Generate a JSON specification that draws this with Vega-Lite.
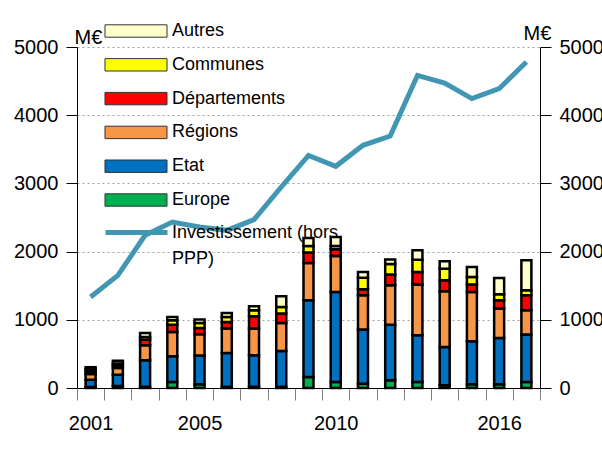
{
  "$schema": "https://vega.github.io/schema/vega-lite/v6.json",
  "width": 463,
  "height": 341,
  "autosize": {"type": "none"},
  "padding": {"left": 77, "top": 47, "right": 62, "bottom": 64},
  "background": "white",
  "config": {
    "font": "Liberation Sans",
    "view": {"stroke": null},
    "axis": {"labelFont": "Liberation Sans", "labelFontSize": 20, "labelColor": "black", "titleFont": "Liberation Sans", "titleFontWeight": "normal", "titleFontSize": 20, "titleColor": "black"},
    "legend": {"labelFont": "Liberation Sans", "labelFontSize": 18, "labelColor": "black"}
  },
  "datasets": {
    "bars": [
      {"year": 2001, "source": "Europe", "value": 15}, {"year": 2001, "source": "Etat", "value": 105}, {"year": 2001, "source": "Régions", "value": 85}, {"year": 2001, "source": "Départements", "value": 35}, {"year": 2001, "source": "Communes", "value": 35}, {"year": 2001, "source": "Autres", "value": 30},
      {"year": 2002, "source": "Europe", "value": 30}, {"year": 2002, "source": "Etat", "value": 165}, {"year": 2002, "source": "Régions", "value": 100}, {"year": 2002, "source": "Départements", "value": 35}, {"year": 2002, "source": "Communes", "value": 30}, {"year": 2002, "source": "Autres", "value": 40},
      {"year": 2003, "source": "Europe", "value": 20}, {"year": 2003, "source": "Etat", "value": 386}, {"year": 2003, "source": "Régions", "value": 220}, {"year": 2003, "source": "Départements", "value": 83}, {"year": 2003, "source": "Communes", "value": 39}, {"year": 2003, "source": "Autres", "value": 58},
      {"year": 2004, "source": "Europe", "value": 88}, {"year": 2004, "source": "Etat", "value": 377}, {"year": 2004, "source": "Régions", "value": 356}, {"year": 2004, "source": "Départements", "value": 108}, {"year": 2004, "source": "Communes", "value": 64}, {"year": 2004, "source": "Autres", "value": 48},
      {"year": 2005, "source": "Europe", "value": 54}, {"year": 2005, "source": "Etat", "value": 421}, {"year": 2005, "source": "Régions", "value": 312}, {"year": 2005, "source": "Départements", "value": 93}, {"year": 2005, "source": "Communes", "value": 73}, {"year": 2005, "source": "Autres", "value": 50},
      {"year": 2006, "source": "Europe", "value": 20}, {"year": 2006, "source": "Etat", "value": 493}, {"year": 2006, "source": "Régions", "value": 358}, {"year": 2006, "source": "Départements", "value": 97}, {"year": 2006, "source": "Communes", "value": 73}, {"year": 2006, "source": "Autres", "value": 59},
      {"year": 2007, "source": "Europe", "value": 20}, {"year": 2007, "source": "Etat", "value": 459}, {"year": 2007, "source": "Régions", "value": 392}, {"year": 2007, "source": "Départements", "value": 180}, {"year": 2007, "source": "Communes", "value": 88}, {"year": 2007, "source": "Autres", "value": 59},
      {"year": 2008, "source": "Europe", "value": 20}, {"year": 2008, "source": "Etat", "value": 522}, {"year": 2008, "source": "Régions", "value": 411}, {"year": 2008, "source": "Départements", "value": 138}, {"year": 2008, "source": "Communes", "value": 96}, {"year": 2008, "source": "Autres", "value": 157},
      {"year": 2009, "source": "Europe", "value": 161}, {"year": 2009, "source": "Etat", "value": 1125}, {"year": 2009, "source": "Régions", "value": 547}, {"year": 2009, "source": "Départements", "value": 152}, {"year": 2009, "source": "Communes", "value": 97}, {"year": 2009, "source": "Autres", "value": 117},
      {"year": 2010, "source": "Europe", "value": 88}, {"year": 2010, "source": "Etat", "value": 1320}, {"year": 2010, "source": "Régions", "value": 527}, {"year": 2010, "source": "Départements", "value": 98}, {"year": 2010, "source": "Communes", "value": 49}, {"year": 2010, "source": "Autres", "value": 132},
      {"year": 2011, "source": "Europe", "value": 64}, {"year": 2011, "source": "Etat", "value": 792}, {"year": 2011, "source": "Régions", "value": 503}, {"year": 2011, "source": "Départements", "value": 88}, {"year": 2011, "source": "Communes", "value": 171}, {"year": 2011, "source": "Autres", "value": 83},
      {"year": 2012, "source": "Europe", "value": 113}, {"year": 2012, "source": "Etat", "value": 816}, {"year": 2012, "source": "Régions", "value": 577}, {"year": 2012, "source": "Départements", "value": 157}, {"year": 2012, "source": "Communes", "value": 157}, {"year": 2012, "source": "Autres", "value": 63},
      {"year": 2013, "source": "Europe", "value": 88}, {"year": 2013, "source": "Etat", "value": 685}, {"year": 2013, "source": "Régions", "value": 743}, {"year": 2013, "source": "Départements", "value": 185}, {"year": 2013, "source": "Communes", "value": 181}, {"year": 2013, "source": "Autres", "value": 137},
      {"year": 2014, "source": "Europe", "value": 40}, {"year": 2014, "source": "Etat", "value": 561}, {"year": 2014, "source": "Régions", "value": 817}, {"year": 2014, "source": "Départements", "value": 161}, {"year": 2014, "source": "Communes", "value": 171}, {"year": 2014, "source": "Autres", "value": 108},
      {"year": 2015, "source": "Europe", "value": 54}, {"year": 2015, "source": "Etat", "value": 631}, {"year": 2015, "source": "Régions", "value": 723}, {"year": 2015, "source": "Départements", "value": 108}, {"year": 2015, "source": "Communes", "value": 111}, {"year": 2015, "source": "Autres", "value": 147},
      {"year": 2016, "source": "Europe", "value": 54}, {"year": 2016, "source": "Etat", "value": 679}, {"year": 2016, "source": "Régions", "value": 431}, {"year": 2016, "source": "Départements", "value": 122}, {"year": 2016, "source": "Communes", "value": 88}, {"year": 2016, "source": "Autres", "value": 239},
      {"year": 2017, "source": "Europe", "value": 88}, {"year": 2017, "source": "Etat", "value": 695}, {"year": 2017, "source": "Régions", "value": 356}, {"year": 2017, "source": "Départements", "value": 220}, {"year": 2017, "source": "Communes", "value": 73}, {"year": 2017, "source": "Autres", "value": 440}
    ],
    "invest": [
      {"year": 2001, "series": "Investissement (hors PPP)", "invest": 1334},
      {"year": 2002, "series": "Investissement (hors PPP)", "invest": 1652},
      {"year": 2003, "series": "Investissement (hors PPP)", "invest": 2239},
      {"year": 2004, "series": "Investissement (hors PPP)", "invest": 2434},
      {"year": 2005, "series": "Investissement (hors PPP)", "invest": 2360},
      {"year": 2006, "series": "Investissement (hors PPP)", "invest": 2312},
      {"year": 2007, "series": "Investissement (hors PPP)", "invest": 2469},
      {"year": 2008, "series": "Investissement (hors PPP)", "invest": 2947},
      {"year": 2009, "series": "Investissement (hors PPP)", "invest": 3411},
      {"year": 2010, "series": "Investissement (hors PPP)", "invest": 3250},
      {"year": 2011, "series": "Investissement (hors PPP)", "invest": 3558},
      {"year": 2012, "series": "Investissement (hors PPP)", "invest": 3694},
      {"year": 2013, "series": "Investissement (hors PPP)", "invest": 4584},
      {"year": 2014, "series": "Investissement (hors PPP)", "invest": 4471},
      {"year": 2015, "series": "Investissement (hors PPP)", "invest": 4243},
      {"year": 2016, "series": "Investissement (hors PPP)", "invest": 4389},
      {"year": 2017, "series": "Investissement (hors PPP)", "invest": 4779}
    ]
  },
  "encoding": {
    "x": {
      "field": "year",
      "type": "ordinal",
      "scale": {"paddingInner": 0, "paddingOuter": 0},
      "axis": {
        "title": null,
        "labelAngle": 0,
        "labelOverlap": false,
        "labelExpr": "indexof(['2001','2005','2010','2016'], datum.label) >= 0 ? datum.label : ''",
        "tickBand": "extent",
        "tickSize": 12,
        "tickColor": "#808080",
        "domainColor": "black",
        "labelPadding": 13
      }
    }
  },
  "layer": [
    {
      "data": {"name": "bars"},
      "transform": [
        {"calculate": "indexof(['Europe','Etat','Régions','Départements','Communes','Autres'], datum.source)", "as": "stack_order"}
      ],
      "mark": {"type": "bar", "size": 10, "stroke": "black", "strokeWidth": 2.5},
      "encoding": {
        "y": {
          "field": "value",
          "type": "quantitative",
          "stack": "zero",
          "scale": {"domain": [0, 5000], "nice": false},
          "axis": {
            "orient": "left",
            "values": [0, 1000, 2000, 3000, 4000, 5000],
            "format": "d",
            "title": "M€",
            "titleAngle": 0,
            "titleAlign": "left",
            "titleBaseline": "alphabetic",
            "titleX": -3,
            "titleY": -4,
            "tickSize": 11,
            "tickColor": "black",
            "domainColor": "black",
            "labelPadding": 8,
            "grid": true,
            "gridColor": "#a0a0a0",
            "gridDash": [2, 3],
            "gridWidth": 1
          }
        },
        "order": {"field": "stack_order", "type": "quantitative"},
        "fill": {
          "field": "source",
          "type": "nominal",
          "scale": {
            "domain": ["Autres", "Communes", "Départements", "Régions", "Etat", "Europe"],
            "range": ["#FFFFCC", "#FFFF00", "#FF0000", "#F79646", "#0070C0", "#00B050"]
          },
          "legend": {
            "orient": "none",
            "legendX": 50,
            "legendY": -25,
            "title": null,
            "padding": 0,
            "symbolSize": 196,
            "symbolType": "M-4.43,-0.886H4.43V0.886H-4.43Z",
            "symbolStrokeColor": "#333333",
            "symbolStrokeWidth": 1,
            "symbolOpacity": 1,
            "labelOffset": 27,
            "labelLimit": 300,
            "rowPadding": 15.8
          }
        }
      }
    },
    {
      "data": {"name": "invest"},
      "mark": {"type": "line", "strokeWidth": 5},
      "encoding": {
        "y": {
          "field": "invest",
          "type": "quantitative",
          "scale": {"domain": [0, 5000], "nice": false},
          "axis": {
            "orient": "right",
            "values": [0, 1000, 2000, 3000, 4000, 5000],
            "format": "d",
            "title": "M€",
            "titleAngle": 0,
            "titleAlign": "left",
            "titleBaseline": "alphabetic",
            "titleX": -17,
            "titleY": -8,
            "tickSize": 11,
            "tickColor": "black",
            "domainColor": "black",
            "labelPadding": 8,
            "grid": false
          }
        },
        "stroke": {
          "field": "series",
          "type": "nominal",
          "scale": {"domain": ["Investissement (hors PPP)"], "range": ["#4197B1"]},
          "legend": {
            "orient": "none",
            "legendX": 26,
            "legendY": 152,
            "title": null,
            "padding": 0,
            "symbolSize": 3844,
            "symbolType": "stroke",
            "symbolStrokeWidth": 5,
            "labelOffset": 2,
            "labelLimit": 300,
            "labelExpr": "['Investissement (hors', 'PPP)']",
            "encode": {"labels": {"update": {"lineHeight": {"value": 26}}}}
          }
        }
      }
    }
  ],
  "resolve": {"scale": {"y": "shared"}, "axis": {"y": "independent"}}
}
